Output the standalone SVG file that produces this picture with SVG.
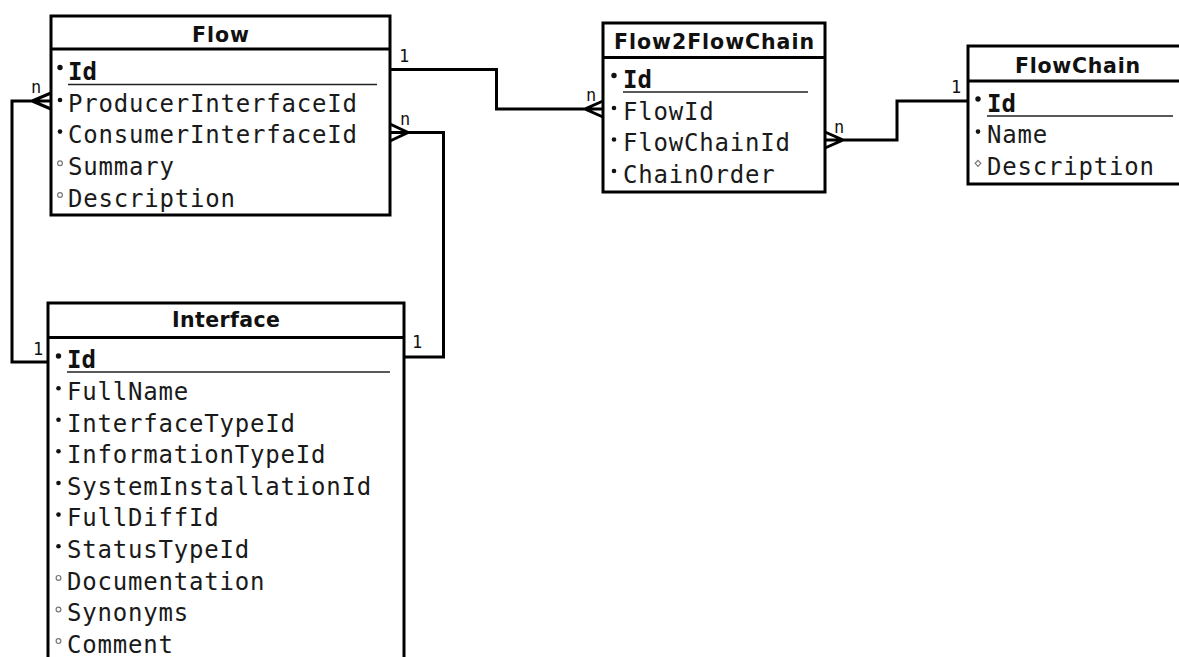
<svg xmlns="http://www.w3.org/2000/svg" width="1179" height="657" viewBox="0 0 1179 657">
<style>
.box{fill:#fff;stroke:#000;stroke-width:3}
.sep{stroke:#000;stroke-width:3}
.ul{stroke:#222;stroke-width:1.5}
.title{font-family:"DejaVu Sans",sans-serif;font-weight:bold;font-size:20.5px;fill:#111;text-anchor:middle}
.attr{font-family:"DejaVu Sans Mono",monospace;font-size:24px;letter-spacing:0.8px;fill:#1a1a1a}
.pk{font-family:"DejaVu Sans Mono",monospace;font-size:24px;font-weight:bold;fill:#111}
.req{fill:#111}
.opt{fill:#fff;stroke:#777;stroke-width:1.2}
.conn{fill:none;stroke:#000;stroke-width:3}
.lbl{font-family:"DejaVu Sans Mono",monospace;font-size:17px;fill:#111}
</style>
<rect width="1179" height="657" fill="#fff"/>
<g id="connectors">
<path class="conn" d="M390,69.5 H496.5 V109 H603 M603,101 L585,109 L603,117"/>
<path class="conn" d="M825,140 H897 V101 H968 M825,132 L843,140 L825,148"/>
<path class="conn" d="M51,101 H12 V362 H48 M51,93 L32,101 L51,109"/>
<path class="conn" d="M390,132.5 H443.5 V357 H404 M390,124 L408,132.5 L390,141"/>
<text class="lbl" x="399" y="62">1</text>
<text class="lbl" x="586" y="101">n</text>
<text class="lbl" x="834" y="133">n</text>
<text class="lbl" x="951" y="93">1</text>
<text class="lbl" x="31" y="93">n</text>
<text class="lbl" x="33" y="355">1</text>
<text class="lbl" x="400" y="125">n</text>
<text class="lbl" x="412" y="348">1</text>
</g>
<g id="Flow">
<rect class="box" x="51" y="16" width="339" height="199"/>
<line class="sep" x1="51" y1="49" x2="390" y2="49"/>
<text class="title" x="220.5" y="41.5" textLength="57">Flow</text>
<circle class="req" cx="60" cy="67.5" r="2.7"/>
<text class="pk" x="68" y="80">Id</text>
<line class="ul" x1="68" y1="84.5" x2="377" y2="84.5"/>
<circle class="req" cx="60" cy="100" r="2.3"/>
<text class="attr" x="68" y="111.7">ProducerInterfaceId</text>
<circle class="req" cx="60" cy="131.6" r="2.3"/>
<text class="attr" x="68" y="143.3">ConsumerInterfaceId</text>
<circle class="opt" cx="60" cy="163.3" r="2.4"/>
<text class="attr" x="68" y="175">Summary</text>
<circle class="opt" cx="60" cy="195" r="2.4"/>
<text class="attr" x="68" y="206.7">Description</text>
</g>
<g id="Flow2FlowChain">
<rect class="box" x="603" y="23" width="222" height="169"/>
<line class="sep" x1="603" y1="57.5" x2="825" y2="57.5"/>
<text class="title" x="714" y="49" textLength="200">Flow2FlowChain</text>
<circle class="req" cx="614" cy="75.5" r="2.7"/>
<text class="pk" x="623" y="88">Id</text>
<line class="ul" x1="623" y1="92" x2="808" y2="92"/>
<circle class="req" cx="614" cy="108" r="2.3"/>
<text class="attr" x="623" y="119.5">FlowId</text>
<circle class="req" cx="614" cy="139.5" r="2.3"/>
<text class="attr" x="623" y="151">FlowChainId</text>
<circle class="req" cx="614" cy="171" r="2.3"/>
<text class="attr" x="623" y="182.5">ChainOrder</text>
</g>
<g id="FlowChain">
<rect class="box" x="968" y="46" width="220" height="138"/>
<line class="sep" x1="968" y1="81" x2="1188" y2="81"/>
<text class="title" x="1077.5" y="73" textLength="125">FlowChain</text>
<circle class="req" cx="978" cy="99" r="2.7"/>
<text class="pk" x="987" y="111.7">Id</text>
<line class="ul" x1="987" y1="116" x2="1173" y2="116"/>
<circle class="req" cx="978" cy="131.6" r="2.3"/>
<text class="attr" x="987" y="143.3">Name</text>
<path class="opt" d="M978,160.3 L980.8,163.3 L978,166.3 L975.2,163.3 Z"/>
<text class="attr" x="987" y="175">Description</text>
</g>
<g id="Interface">
<rect class="box" x="48" y="303" width="356" height="370"/>
<line class="sep" x1="48" y1="337.5" x2="404" y2="337.5"/>
<text class="title" x="226" y="327" textLength="108">Interface</text>
<circle class="req" cx="58.5" cy="356" r="2.7"/>
<text class="pk" x="67" y="368.3">Id</text>
<line class="ul" x1="67" y1="372" x2="390" y2="372"/>
<circle class="req" cx="58.5" cy="388.3" r="2.3"/>
<text class="attr" x="67" y="400">FullName</text>
<circle class="req" cx="58.5" cy="419.8" r="2.3"/>
<text class="attr" x="67" y="431.5">InterfaceTypeId</text>
<circle class="req" cx="58.5" cy="451.3" r="2.3"/>
<text class="attr" x="67" y="463">InformationTypeId</text>
<circle class="req" cx="58.5" cy="483" r="2.3"/>
<text class="attr" x="67" y="494.7">SystemInstallationId</text>
<circle class="req" cx="58.5" cy="514.6" r="2.3"/>
<text class="attr" x="67" y="526.3">FullDiffId</text>
<circle class="req" cx="58.5" cy="546.3" r="2.3"/>
<text class="attr" x="67" y="558">StatusTypeId</text>
<circle class="opt" cx="58.5" cy="577.9" r="2.4"/>
<text class="attr" x="67" y="589.6">Documentation</text>
<circle class="opt" cx="58.5" cy="609.5" r="2.4"/>
<text class="attr" x="67" y="621.2">Synonyms</text>
<circle class="opt" cx="58.5" cy="641.1" r="2.4"/>
<text class="attr" x="67" y="652.8">Comment</text>
</g>
</svg>
